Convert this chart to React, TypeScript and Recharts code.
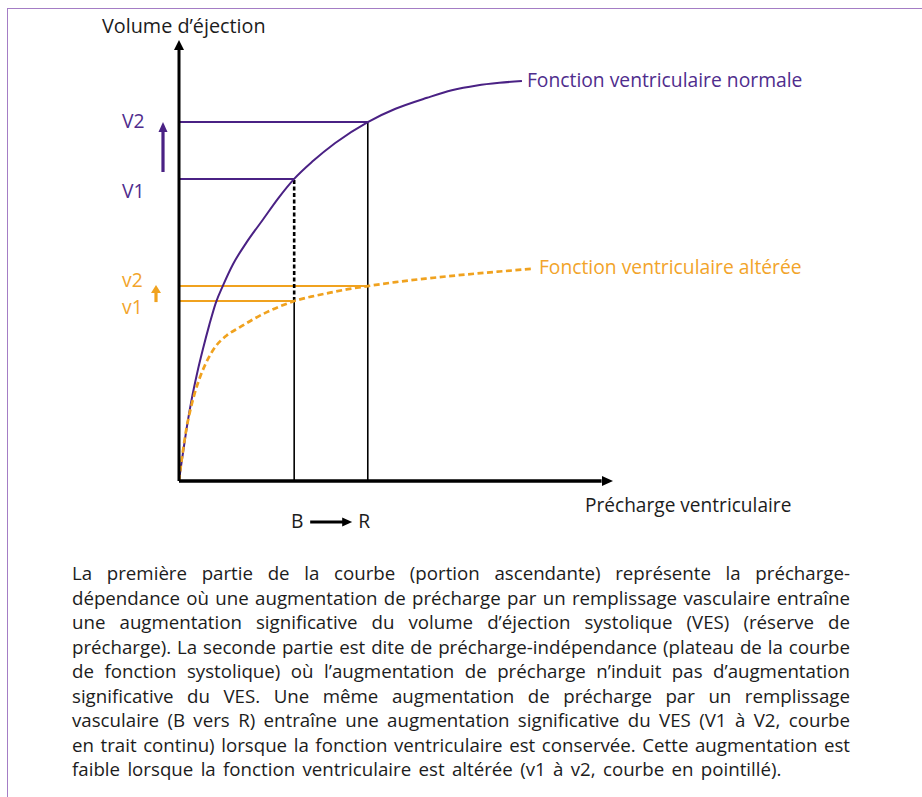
import React from 'react';
import { LineChart, Line, XAxis, YAxis, ReferenceLine, ReferenceDot } from 'recharts';

// Preload (x, 0-100) and stroke volume (y, 0-100)
const normalPreload = [0, 0.5, 1.0, 1.9, 3.0, 4.2, 5.5, 7.0, 8.5, 10.2, 12.5, 15.6, 19.4, 23.0, 26.6, 31.0, 36.0, 43.6, 50.0, 57.3, 63.0, 68.8, 74.0, 79.2];
const normalVolume = [0, 3.6, 6.9, 12.8, 18.9, 24.5, 29.8, 35.4, 40.4, 44.4, 49.2, 54.1, 59.3, 64.2, 68.5, 72.6, 76.6, 81.4, 84.4, 86.9, 88.6, 89.7, 90.3, 90.7];

const alteredPreload = [0, 0.4, 1.0, 1.7, 2.6, 3.6, 4.8, 6.3, 8.3, 11.0, 14.1, 17.0, 20.3, 23.3, 26.6, 30.5, 34.9, 39.0, 43.6, 50.0, 58.0, 66.0, 74.0, 81.5];
const alteredVolume = [0, 3.2, 7.4, 11.8, 16.0, 19.8, 23.4, 26.9, 30.3, 33.0, 34.9, 36.6, 38.3, 39.6, 40.8, 41.8, 42.7, 43.5, 44.2, 45.1, 46.0, 46.8, 47.5, 48.1];

// Preload points B (before) and R (after filling)
const preloadB = 26.6;
const preloadR = 43.6;
// Stroke volumes
const V1 = 68.5;
const V2 = 81.4;
const v1 = 40.8;
const v2 = 44.2;

const labelNormal = 'Fonction ventriculaire normale';
const labelAltered = 'Fonction ventriculaire altérée';
const yTitle = 'Volume d\u2019éjection';
const xTitle = 'Précharge ventriculaire';

const paragraphLines = [
  'La première partie de la courbe (portion ascendante) représente la précharge-',
  'dépendance où une augmentation de précharge par un remplissage vasculaire entraîne',
  'une augmentation significative du volume d\u2019éjection systolique (VES) (réserve de',
  'précharge). La seconde partie est dite de précharge-indépendance (plateau de la courbe',
  'de fonction systolique) où l\u2019augmentation de précharge n\u2019induit pas d\u2019augmentation',
  'significative du VES. Une même augmentation de précharge par un remplissage',
  'vasculaire (B vers R) entraîne une augmentation significative du VES (V1 à V2, courbe',
  'en trait continu) lorsque la fonction ventriculaire est conservée. Cette augmentation est',
  'faible lorsque la fonction ventriculaire est altérée (v1 à v2, courbe en pointillé).',
];

const normalData = normalPreload.map((x, i) => ({ x, y: normalVolume[i] }));
const alteredData = alteredPreload.map((x, i) => ({ x, y: alteredVolume[i] }));

const PURPLE = '#4a2184';
const PURPLE_TXT = '#4f2d8d';
const ORANGE = '#f0a21f';
const ORANGE_TXT = '#f2a42a';
const INK = '#1c1c1c';
const FONT = '"Open Sans", "Noto Sans", sans-serif';

const txt = (fill: string, size = 19.3) => ({ fill, fontSize: size, fontFamily: FONT });

export default function App() {
  return (
    <div style={{ position: 'absolute', left: 0, top: 0, width: 922, height: 797, background: '#fff', overflow: 'hidden' }}>
      <div
        style={{
          position: 'absolute',
          left: 7,
          top: 8,
          width: 1000,
          height: 900,
          borderLeft: '1px solid #a47dc5',
          borderTop: '1.5px solid #a47dc5',
          boxSizing: 'border-box',
        }}
      />
      <div style={{ position: 'absolute', left: 0, top: 0 }}>
        <LineChart width={922} height={540} margin={{ top: 40, right: 310, bottom: 59, left: 179 }}>
          <XAxis type="number" dataKey="x" domain={[0, 100]} hide allowDataOverflow />
          <YAxis type="number" dataKey="y" domain={[0, 100]} hide allowDataOverflow />

          {/* guide lines */}
          <ReferenceLine segment={[{ x: 0, y: V2 }, { x: preloadR, y: V2 }]} stroke={PURPLE} strokeWidth={2} ifOverflow="visible" />
          <ReferenceLine segment={[{ x: 0, y: V1 }, { x: preloadB, y: V1 }]} stroke={PURPLE} strokeWidth={2} ifOverflow="visible" />
          <ReferenceLine segment={[{ x: 0, y: v2 }, { x: preloadR, y: v2 }]} stroke={ORANGE} strokeWidth={2} ifOverflow="visible" />
          <ReferenceLine segment={[{ x: 0, y: v1 }, { x: preloadB, y: v1 }]} stroke={ORANGE} strokeWidth={2} ifOverflow="visible" />
          <ReferenceLine segment={[{ x: preloadR, y: 0 }, { x: preloadR, y: V2 }]} stroke="#000" strokeWidth={1.6} ifOverflow="visible" />
          <ReferenceLine segment={[{ x: preloadB, y: 0 }, { x: preloadB, y: v1 }]} stroke="#000" strokeWidth={1.6} ifOverflow="visible" />
          <ReferenceLine segment={[{ x: preloadB, y: v1 }, { x: preloadB, y: V1 }]} stroke="#000" strokeWidth={2.6} strokeDasharray="4 2.5" ifOverflow="visible" />

          <Line data={normalData} dataKey="y" type="monotone" stroke={PURPLE} strokeWidth={2} dot={false} isAnimationActive={false} />
          <Line data={alteredData} dataKey="y" type="monotone" stroke={ORANGE} strokeWidth={2.7} strokeDasharray="6 3.5" dot={false} isAnimationActive={false} />

          {/* axes */}
          <ReferenceLine segment={[{ x: 0, y: 0 }, { x: 97.6, y: 0 }]} stroke="#000" strokeWidth={3.5} ifOverflow="visible" />
          <ReferenceLine segment={[{ x: 0, y: 0 }, { x: 0, y: 98 }]} stroke="#000" strokeWidth={3} ifOverflow="visible" />
          <ReferenceDot
            x={100}
            y={0}
            ifOverflow="visible"
            shape={(p: any) => (
              <g>
                <polygon points={`${p.cx + 1},${p.cy} ${p.cx - 10},${p.cy - 5} ${p.cx - 10},${p.cy + 5}`} fill="#000" />
                <text x={p.cx - 27} y={p.cy + 31} {...txt(INK, 19.1)}>{xTitle}</text>
              </g>
            )}
          />
          <ReferenceDot
            x={0}
            y={100}
            ifOverflow="visible"
            shape={(p: any) => (
              <g>
                <polygon points={`${p.cx},${p.cy} ${p.cx - 5},${p.cy + 10} ${p.cx + 5},${p.cy + 10}`} fill="#000" />
                <text x={p.cx - 77} y={p.cy - 7} {...txt(INK, 19.8)}>{yTitle}</text>
              </g>
            )}
          />

          {/* V labels */}
          <ReferenceDot
            x={0}
            y={V2}
            ifOverflow="visible"
            shape={(p: any) => (
              <g>
                <text x={p.cx - 57} y={p.cy + 6} {...txt(PURPLE_TXT)}>V2</text>
                <line x1={p.cx - 16} y1={p.cy + 50} x2={p.cx - 16} y2={p.cy + 8} stroke={PURPLE} strokeWidth={3.2} />
                <polygon points={`${p.cx - 16},${p.cy} ${p.cx - 20.5},${p.cy + 10} ${p.cx - 11.5},${p.cy + 10}`} fill={PURPLE} />
              </g>
            )}
          />
          <ReferenceDot
            x={0}
            y={V1}
            ifOverflow="visible"
            shape={(p: any) => (
              <text x={p.cx - 57} y={p.cy + 19} {...txt(PURPLE_TXT)}>V1</text>
            )}
          />
          <ReferenceDot
            x={0}
            y={v2}
            ifOverflow="visible"
            shape={(p: any) => (
              <g>
                <text x={p.cx - 57} y={p.cy + 1} {...txt(ORANGE_TXT)}>v2</text>
                <line x1={p.cx - 23} y1={p.cy + 16} x2={p.cx - 23} y2={p.cy + 5} stroke={ORANGE} strokeWidth={3.2} />
                <polygon points={`${p.cx - 23},${p.cy - 1} ${p.cx - 28},${p.cy + 7} ${p.cx - 18},${p.cy + 7}`} fill={ORANGE} />
              </g>
            )}
          />
          <ReferenceDot
            x={0}
            y={v1}
            ifOverflow="visible"
            shape={(p: any) => (
              <text x={p.cx - 57} y={p.cy + 13} {...txt(ORANGE_TXT)}>v1</text>
            )}
          />

          {/* curve labels */}
          <ReferenceDot
            x={normalPreload[normalPreload.length - 1]}
            y={normalVolume[normalVolume.length - 1]}
            ifOverflow="visible"
            shape={(p: any) => (
              <text x={p.cx + 5} y={p.cy + 6} {...txt(PURPLE_TXT)}>{labelNormal}</text>
            )}
          />
          <ReferenceDot
            x={alteredPreload[alteredPreload.length - 1]}
            y={alteredVolume[alteredVolume.length - 1]}
            ifOverflow="visible"
            shape={(p: any) => (
              <text x={p.cx + 7} y={p.cy + 5} {...txt(ORANGE_TXT)}>{labelAltered}</text>
            )}
          />

          {/* B -> R */}
          <ReferenceDot
            x={preloadB}
            y={0}
            ifOverflow="visible"
            shape={(p: any) => (
              <g>
                <text x={p.cx + 3} y={p.cy + 47} textAnchor="middle" {...txt(INK)}>B</text>
                <line x1={p.cx + 16} y1={p.cy + 41} x2={p.cx + 50} y2={p.cy + 41} stroke="#000" strokeWidth={3} />
                <polygon points={`${p.cx + 58},${p.cy + 41} ${p.cx + 48},${p.cy + 36.5} ${p.cx + 48},${p.cy + 45.5}`} fill="#000" />
              </g>
            )}
          />
          <ReferenceDot
            x={preloadR}
            y={0}
            ifOverflow="visible"
            shape={(p: any) => (
              <text x={p.cx - 3.5} y={p.cy + 47} textAnchor="middle" {...txt(INK)}>R</text>
            )}
          />
        </LineChart>
      </div>

      <div
        style={{
          position: 'absolute',
          left: 72,
          top: 561,
          width: 778,
          fontFamily: FONT,
          fontSize: 18.7,
          lineHeight: '24.5px',
          color: INK,
        }}
      >
        {paragraphLines.map((l, i) => {
          const last = i === paragraphLines.length - 1;
          return (
            <div
              key={i}
              style={{
                textAlign: 'justify',
                textAlignLast: last ? 'left' : 'justify',
                wordSpacing: last ? '2.5px' : undefined,
                whiteSpace: 'nowrap',
              }}
            >
              {l}
            </div>
          );
        })}
      </div>
    </div>
  );
}
